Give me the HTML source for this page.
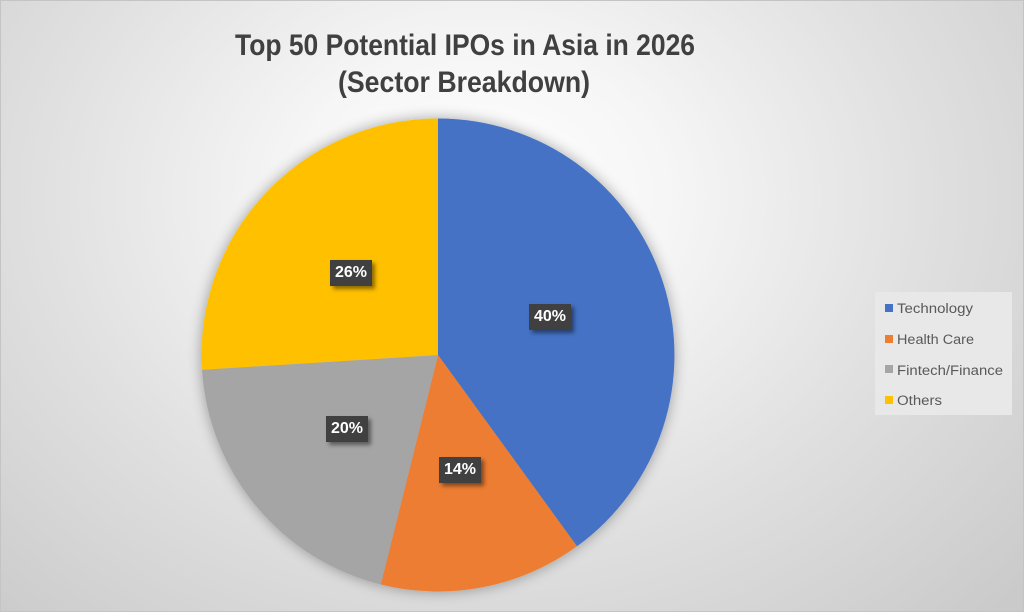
<!DOCTYPE html>
<html><head><meta charset="utf-8"><style>
html,body{margin:0;padding:0;}
body{width:1024px;height:612px;overflow:hidden;position:relative;
background:radial-gradient(ellipse 72% 95% at 47% 32%, #ffffff 0%, #f6f6f6 25%, #e0e0e0 60%, #cacaca 100%);}
.frame{position:absolute;left:0;top:0;width:1022px;height:610px;border:1px solid #c4c4c4;}
.lbl{position:absolute;width:42px;height:26px;background:#404040;color:#fff;font:bold 16px "Liberation Sans",sans-serif;
text-align:center;line-height:26px;box-shadow:3px 3px 4px rgba(0,0,0,0.45);}
</style></head><body>
<div class="frame"></div>
<svg width="1024" height="612" style="position:absolute;left:0;top:0">
<defs>
<filter id="sh" x="-20%" y="-20%" width="140%" height="140%">
<feGaussianBlur in="SourceAlpha" stdDeviation="7"/>
<feOffset dx="0" dy="0" result="b"/>
<feComponentTransfer><feFuncA type="linear" slope="0.35"/></feComponentTransfer>
<feMerge><feMergeNode/><feMergeNode in="SourceGraphic"/></feMerge>
</filter>
</defs>
<text x="465" y="55" text-anchor="middle" font-family="Liberation Sans, sans-serif" font-weight="bold" font-size="30" fill="#404040" textLength="460" lengthAdjust="spacingAndGlyphs">Top 50 Potential IPOs in Asia in 2026</text>
<text x="464" y="92" text-anchor="middle" font-family="Liberation Sans, sans-serif" font-weight="bold" font-size="30" fill="#404040" textLength="252" lengthAdjust="spacingAndGlyphs">(Sector Breakdown)</text>
<g filter="url(#sh)">
<path d="M438,355 L438,118.5 A236.5,236.5 0 0,1 577.0,546.3 Z" fill="#4472c4"/>
<path d="M438,355 L577.0,546.3 A236.5,236.5 0 0,1 380.8,584.5 Z" fill="#ed7d31"/>
<path d="M438,355 L380.8,584.5 A236.5,236.5 0 0,1 202.0,369.8 Z" fill="#a5a5a5"/>
<path d="M438,355 L202.0,369.8 A236.5,236.5 0 0,1 438,118.5 Z" fill="#ffc000"/>
</g>
<rect x="875" y="292" width="137" height="123" fill="#e8e8e8"/>
<rect x="885" y="304" width="8" height="8" fill="#4472c4"/>
<rect x="885" y="335" width="8" height="8" fill="#ed7d31"/>
<rect x="885" y="365" width="8" height="8" fill="#a5a5a5"/>
<rect x="885" y="396" width="8" height="8" fill="#ffc000"/>
<g font-family="Liberation Sans, sans-serif" font-size="13.5" fill="#595959">
<text x="897" y="313" textLength="76" lengthAdjust="spacingAndGlyphs">Technology</text>
<text x="897" y="344" textLength="77" lengthAdjust="spacingAndGlyphs">Health Care</text>
<text x="897" y="375" textLength="106" lengthAdjust="spacingAndGlyphs">Fintech/Finance</text>
<text x="897" y="405" textLength="45" lengthAdjust="spacingAndGlyphs">Others</text>
</g>
</svg>
<div class="lbl" style="left:529px;top:304px;">40%</div>
<div class="lbl" style="left:439px;top:457px;">14%</div>
<div class="lbl" style="left:326px;top:416px;">20%</div>
<div class="lbl" style="left:330px;top:260px;">26%</div>
</body></html>
